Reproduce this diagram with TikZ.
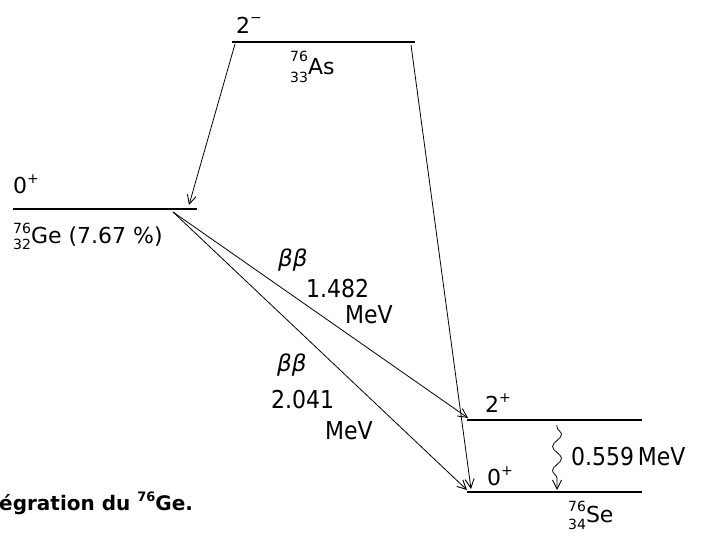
\documentclass[tikz,border=0pt]{standalone}
\usepackage{fontspec}
\usepackage{graphicx}
\setmainfont{DejaVu Sans}
\usetikzlibrary{arrows.meta,decorations.pathmorphing}
\newcommand\scr[1]{{\fontsize{14}{14}\selectfont #1}}
\newcommand\nucl[5]{\makebox[0pt][l]{\raisebox{#4}{\scr{#1}}}\raisebox{-#5}{\scr{#2}}#3}
\newcommand\spinlab[2]{#1\raisebox{10pt}{\scr{#2}}}
\newcommand\tallt[1]{\scalebox{1}[1.12]{#1}}
\tikzset{
  level/.style={line width=2.4pt},
  trans/.style={line width=0.8pt,-{Straight Barb[length=9pt,width=9pt,line width=0.9pt]}},
  lab/.style={anchor=base west,inner sep=0pt,font=\fontsize{22}{26}\selectfont},
  bb/.style={anchor=base west,inner sep=0pt,font=\itshape\fontsize{23}{27}\selectfont},
}
\begin{document}
\begin{tikzpicture}[x=1pt,y=-1pt]
\useasboundingbox (0,0) rectangle (704,538);
% levels
\coordinate (asL) at (232,42);  \coordinate (asR) at (415,42);
\coordinate (geL) at (13,209);  \coordinate (geR) at (197,209);
\coordinate (s2L) at (467,420); \coordinate (s2R) at (642,420);
\coordinate (s0L) at (467,492); \coordinate (s0R) at (642,492);
\draw[level] (asL) -- (asR);
\draw[level] (geL) -- (geR);
\draw[level] (s2L) -- (s2R);
\draw[level] (s0L) -- (s0R);
% transition end points
\coordinate (asA) at (235,44);  \coordinate (geT) at (189,205);
\coordinate (asB) at (411,45);  \coordinate (s0T) at (471,489);
\coordinate (geS) at (173,212);
\coordinate (s2A) at (468,418); \coordinate (s0A) at (467,490);
\coordinate (gamS) at (557,425); \coordinate (gamE) at (557,490);
\draw[trans] (asA) -- (geT);
\draw[trans] (asB) -- (s0T);
\draw[trans] (geS) -- (s2A);
\draw[trans] (geS) -- (s0A);
\draw[line width=0.8pt,-{Straight Barb[length=9pt,width=9pt,line width=0.9pt]},
  decorate,decoration={snake,amplitude=4.5pt,segment length=24pt,pre length=2pt,post length=9pt}]
  (gamS) -- (gamE);
% labels
\node[lab] (spAs) at (236,33) {\spinlab{2}{−}};
\node[lab] (nAs) at (290,74) {\nucl{76}{33}{As}{13pt}{8pt}};
\node[lab] (spGe) at (13,193) {\spinlab{0}{+}};
\node[lab] (nGe) at (13,243) {\nucl{76}{32}{Ge (7.67 \%)}{10pt}{6pt}};
\node[lab] (spS2) at (485,412) {\spinlab{2}{+}};
\node[lab] (spS0) at (487,485) {\spinlab{0}{+}};
\node[lab] (nSe) at (568,522) {\nucl{76}{34}{Se}{11pt}{7pt}};
\node[bb] (bb1) at (278,266) {ββ};
\node[lab] (e1) at (306,297) {\tallt{1.482}};
\node[lab] (m1) at (345,323) {\tallt{MeV}};
\node[bb] (bb2) at (277,371) {ββ};
\node[lab] (e2) at (271,408) {\tallt{2.041}};
\node[lab] (m2) at (325,439) {\tallt{MeV}};
\node[lab] (eg) at (571,465) {\tallt{0.559\,MeV}};
\node[anchor=base west,inner sep=0pt,font=\bfseries\fontsize{20}{24}\selectfont] (cap) at (-1,510)
  {égration du \raisebox{9pt}{\fontsize{13}{13}\selectfont 76}Ge.};
\end{tikzpicture}
\end{document}
